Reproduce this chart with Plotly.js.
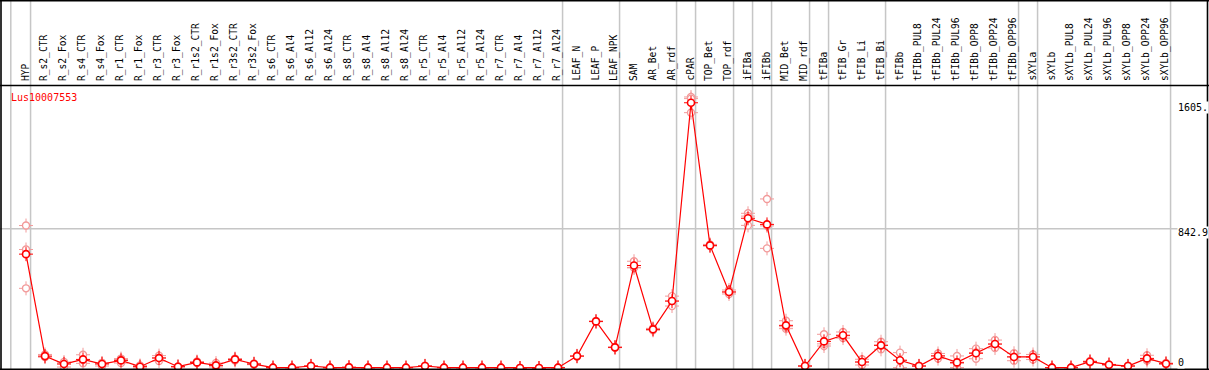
<!DOCTYPE html>
<html>
<head>
<meta charset="utf-8">
<script src="https://cdn.plot.ly/plotly-3.0.1.min.js"></script>
<style>html,body{margin:0;padding:0;background:#fff;}#chart{width:1209px;height:370px;}</style>
</head>
<body>
<div id="chart"></div>
<script>
const geneName = "Lus10007553";
const categories = ["HYP","R_s2_CTR","R_s2_Fox","R_s4_CTR","R_s4_Fox","R_r1_CTR","R_r1_Fox","R_r3_CTR","R_r3_Fox","R_r1s2_CTR","R_r1s2_Fox","R_r3s2_CTR","R_r3s2_Fox","R_s6_CTR","R_s6_Al4","R_s6_Al12","R_s6_Al24","R_s8_CTR","R_s8_Al4","R_s8_Al12","R_s8_Al24","R_r5_CTR","R_r5_Al4","R_r5_Al12","R_r5_Al24","R_r7_CTR","R_r7_Al4","R_r7_Al12","R_r7_Al24","LEAF_N","LEAF_P","LEAF_NPK","SAM","AR_Bet","AR_rdf","cPAR","TOP_Bet","TOP_rdf","iFIBa","iFIBb","MID_Bet","MID_rdf","tFIBa","tFIB_Gr","tFIB_Li","tFIB_Bi","tFIBb","tFIBb_PUL8","tFIBb_PUL24","tFIBb_PUL96","tFIBb_OPP8","tFIBb_OPP24","tFIBb_OPP96","sXYLa","sXYLb","sXYLb_PUL8","sXYLb_PUL24","sXYLb_PUL96","sXYLb_OPP8","sXYLb_OPP24","sXYLb_OPP96"];
const groupSizes = [1,28,3,3,1,2,1,1,2,1,3,7,1,7];
const meanValues = [689,72,24,52,24,46,8,60,8,34,16,52,24,2,2,12,2,4,2,2,2,12,2,2,2,2,0,0,2,72,282,125,620,234,405,1605,742,460,906,869,258,12,161,198,36,137,47,12,73,34,89,145,67,67,2,2,38,20,12,58,26];
const rep1 = [862,82,30,80,30,57,15,75,10,39,30,57,28,3,3,14,3,6,3,3,3,14,3,3,3,3,0,0,3,74,284,127,646,240,435,1640,748,472,936,1023,286,14,204,218,53,159,93,14,88,73,117,169,89,82,3,3,42,22,14,77,30];
const rep2 = [717,66,6,28,12,30,0,42,6,30,6,45,20,1,1,10,1,2,1,1,1,10,1,1,1,1,0,0,1,70,280,123,608,228,375,1630,738,448,863,724,238,10,133,181,18,113,2,10,57,2,56,121,44,51,1,1,34,18,10,45,22];
const rep3 = [482,68,36,48,30,51,9,63,8,33,12,54,24,2,2,12,2,4,2,2,2,12,2,2,2,2,0,0,2,72,282,125,606,234,405,1545,740,460,919,860,250,12,146,195,37,139,46,12,74,27,94,145,68,68,2,2,38,20,12,52,26];
const yTickValues = [1605, 842.9, 0];
const yTickLabels = ["1605.", "842.9", "0"];

const W = 1209, H = 370;
const px = p => p / W;
const py = p => (H - p) / H;
const idx = categories.map((c, i) => i);

// scales
const xPerCat = 19, firstX = 26;
const xr0 = -firstX / xPerCat, xr1 = xr0 + W / xPerCat;
const zeroPix = 368, k = (368 - 228.7) / 842.9;
const plotTop = 86, plotBot = 369;
const yr0 = -(plotBot - zeroPix) / k, yr1 = (zeroPix - plotTop) / k;

const red = "#ff0000", pink = "#f29a9a", grid = "#c6c6c6";
const repX = [], repY = [];
[rep1, rep2, rep3].forEach(r => r.forEach((v, i) => { if (v !== null) { repX.push(i); repY.push(v); } }));

const traces = [
  {x: repX, y: repY, type: "scatter", mode: "markers", hoverinfo: "skip",
   marker: {symbol: "cross-thin-open", size: 10, color: pink, line: {color: pink, width: 1}}},
  {x: repX, y: repY, type: "scatter", mode: "markers", hoverinfo: "skip",
   marker: {symbol: "circle", size: 7, color: "#ffffff", line: {color: pink, width: 1.4}}},
  {x: idx, y: meanValues, type: "scatter", mode: "lines", line: {color: red, width: 1.2}, hoverinfo: "skip"},
  {x: idx, y: meanValues, type: "scatter", mode: "markers", hoverinfo: "skip",
   marker: {symbol: "cross-thin-open", size: 10, color: red, line: {color: red, width: 1}}},
  {x: idx, y: meanValues, type: "scatter", mode: "markers",
   marker: {symbol: "circle", size: 7, color: "#ffffff", line: {color: red, width: 1.6}}}
];

const shapes = [];
// group separators
const seps = [-0.8];
let acc = 0;
groupSizes.forEach(g => { acc += g; seps.push(acc - 1 + 0.24); });
seps.forEach(s => shapes.push({type: "line", xref: "x", yref: "paper", x0: s, x1: s, y0: 0, y1: 1, layer: "below", line: {color: grid, width: 1.5}}));
// horizontal grid line
shapes.push({type: "line", xref: "paper", yref: "y", x0: 0, x1: 1, y0: yTickValues[1], y1: yTickValues[1], layer: "below", line: {color: grid, width: 1.5}});
// borders
const blk = {color: "#000", width: 1.6};
shapes.push({type: "line", xref: "paper", yref: "paper", x0: 0, x1: 1, y0: py(0.8), y1: py(0.8), line: blk});
shapes.push({type: "line", xref: "paper", yref: "paper", x0: 0, x1: 1, y0: py(85.5), y1: py(85.5), line: blk});
shapes.push({type: "line", xref: "paper", yref: "paper", x0: 0, x1: 1, y0: py(369.2), y1: py(369.2), line: blk});
shapes.push({type: "line", xref: "paper", yref: "paper", x0: px(1), x1: px(1), y0: 0, y1: 1, line: blk});
shapes.push({type: "line", xref: "paper", yref: "paper", x0: px(1207.5), x1: px(1207.5), y0: 0, y1: 1, line: blk});

const mono = "DejaVu Sans Mono, monospace";
const annotations = categories.map((c, i) => ({
  x: i, xref: "x", y: py(83), yref: "paper", text: c, showarrow: false, textangle: -90,
  xanchor: "center", yanchor: "bottom", xshift: -1, font: {family: mono, size: 9.6, color: "#000"}
}));
annotations.push({x: px(9), xref: "paper", y: py(97.5), yref: "paper", text: geneName, showarrow: false,
  xanchor: "left", yanchor: "middle", font: {family: mono, size: 10, color: red}});
const labelPix = [107, 232.7, 362.3];
yTickLabels.forEach((t, j) => annotations.push({x: px(1177), xref: "paper", y: py(labelPix[j]), yref: "paper", text: t,
  showarrow: false, xanchor: "left", yanchor: "middle", bgcolor: "#ffffff", borderpad: 0,
  font: {family: mono, size: 10, color: "#000"}}));

const layout = {
  width: W, height: H, autosize: false, showlegend: false,
  margin: {l: 0, r: 0, t: 0, b: 0, pad: 0},
  paper_bgcolor: "#ffffff", plot_bgcolor: "rgba(0,0,0,0)",
  xaxis: {range: [xr0, xr1], visible: false, fixedrange: true},
  yaxis: {range: [yr0, yr1], domain: [py(plotBot), py(plotTop)], visible: false, fixedrange: true},
  shapes: shapes, annotations: annotations
};
Plotly.newPlot("chart", traces, layout, {staticPlot: true, displayModeBar: false});
</script>
</body>
</html>
